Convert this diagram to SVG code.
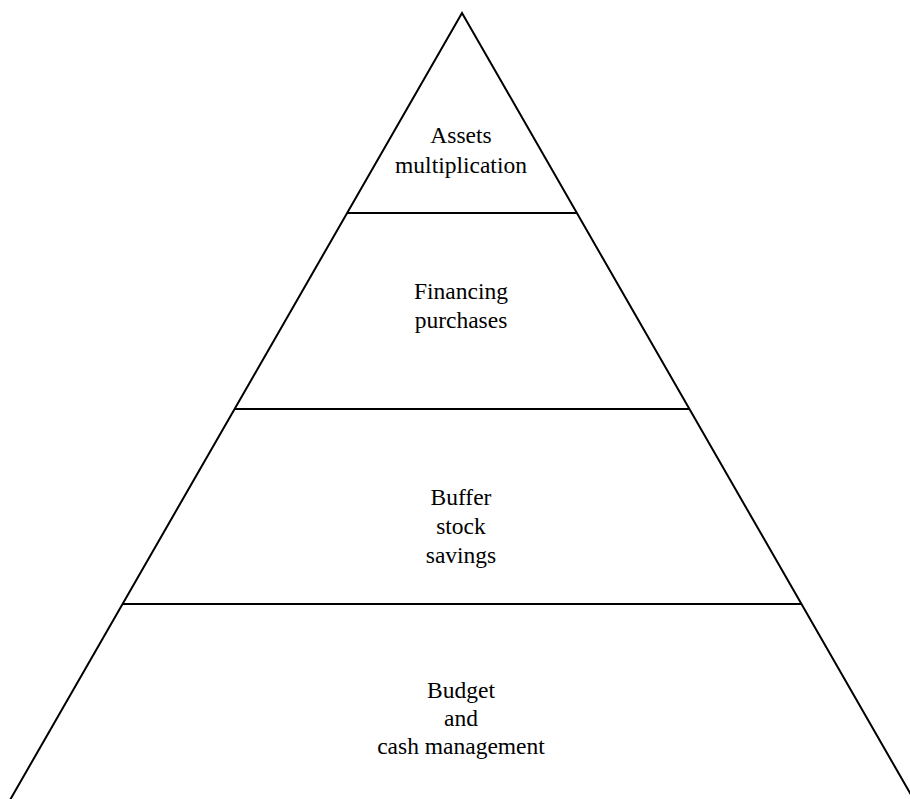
<svg xmlns="http://www.w3.org/2000/svg" width="910" height="799" viewBox="0 0 910 799">
  <style>
    .edge { stroke: #000; stroke-width: 2; fill: none; }
    .lbl { font-size: 23.5px; fill: #000; text-anchor: middle; }
  </style>
  <rect width="910" height="799" fill="#fff"/>
  <g id="connectors">
    <polyline class="edge" points="10,800 462,13 914,800"/>
    <line class="edge" x1="347" y1="213" x2="577" y2="213"/>
    <line class="edge" x1="235" y1="409" x2="690" y2="409"/>
    <line class="edge" x1="122" y1="604" x2="802" y2="604"/>
  </g>
  <g font-family="'Liberation Serif', 'Times New Roman', Times, serif">
    <g id="level-assets">
      <text class="lbl" x="461" y="143">Assets</text>
      <text class="lbl" x="461" y="173">multiplication</text>
    </g>
    <g id="level-financing">
      <text class="lbl" x="461" y="299">Financing</text>
      <text class="lbl" x="461" y="328">purchases</text>
    </g>
    <g id="level-buffer">
      <text class="lbl" x="461" y="505">Buffer</text>
      <text class="lbl" x="461" y="534">stock</text>
      <text class="lbl" x="461" y="563">savings</text>
    </g>
    <g id="level-budget">
      <text class="lbl" x="461" y="698">Budget</text>
      <text class="lbl" x="461" y="726">and</text>
      <text class="lbl" x="461" y="754">cash management</text>
    </g>
  </g>
</svg>
